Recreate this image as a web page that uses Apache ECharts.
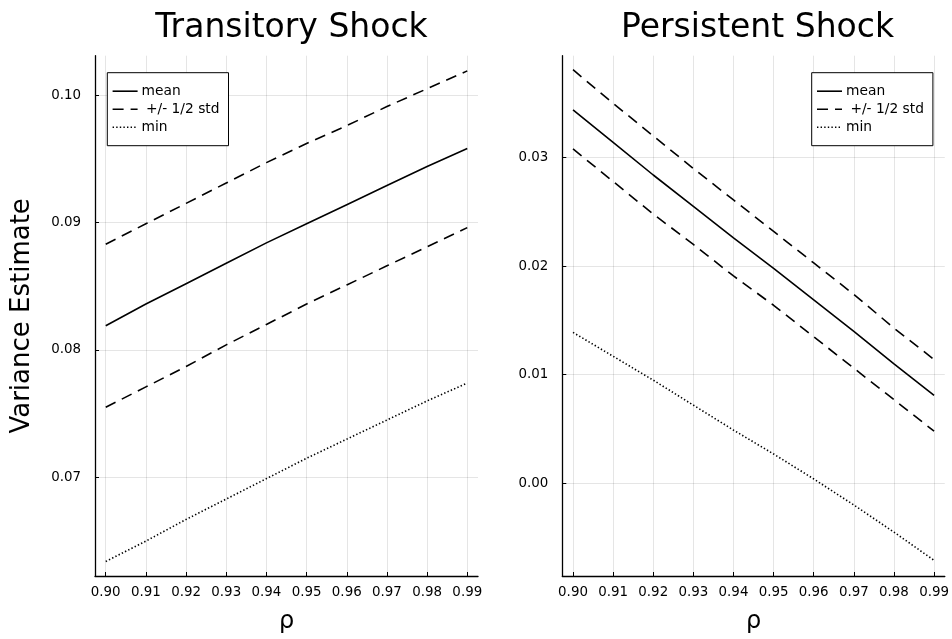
<!DOCTYPE html>
<html>
<head>
<meta charset="utf-8">
<script src="https://cdn.jsdelivr.net/npm/echarts@6/dist/echarts.min.js"></script>
<style>
  html, body { margin: 0; padding: 0; background: #fff; }
  #chart { width: 952px; height: 639px; }
</style>
</head>
<body>
<div id="chart"></div>
<script>
// Persistence parameter on the horizontal axis
const rho = [0.90, 0.91, 0.92, 0.93, 0.94, 0.95, 0.96, 0.97, 0.98, 0.99];
const rhoTicks = [0.90, 0.91, 0.92, 0.93, 0.94, 0.95, 0.96, 0.97, 0.98, 0.99];

// Transitory shock variance estimates
const transMean  = [0.0819, 0.0836, 0.0852, 0.0868, 0.0884, 0.0899, 0.0914, 0.0929, 0.0944, 0.0958];
const transUpper = [0.0883, 0.0899, 0.0915, 0.0931, 0.0947, 0.0962, 0.0976, 0.0991, 0.1005, 0.1019];
const transLower = [0.0755, 0.0771, 0.0787, 0.0804, 0.0820, 0.0836, 0.0851, 0.0866, 0.0881, 0.0896];
const transMin   = [0.0634, 0.0650, 0.0667, 0.0683, 0.0699, 0.0715, 0.0730, 0.0745, 0.0760, 0.0774];
const transTicks = [0.07, 0.08, 0.09, 0.10];

// Persistent shock variance estimates
const persMean  = [0.0344, 0.0314, 0.0284, 0.0255, 0.0226, 0.0198, 0.0169, 0.0140, 0.0110, 0.0081];
const persUpper = [0.0381, 0.0350, 0.0320, 0.0290, 0.0261, 0.0232, 0.0203, 0.0174, 0.0143, 0.0114];
const persLower = [0.0308, 0.0278, 0.0248, 0.0220, 0.0191, 0.0164, 0.0135, 0.0106, 0.0077, 0.0048];
const persMin   = [0.0139, 0.0117, 0.0095, 0.0072, 0.0049, 0.0027, 0.0004, -0.0020, -0.0045, -0.0071];
const persTicks = [0.00, 0.01, 0.02, 0.03];

const seriesNames = ['mean', ' +/- 1/2 std', 'min'];

const FONT = 'DejaVu Sans';
const DASH = [11, 7];
const DOT = [1.4, 2.2];
const LINE_W = 1.6;

const pairs = ys => rho.map((x, i) => [x, ys[i]]);

function lineSeries(name, ys, gridIdx, type) {
  return {
    name: name,
    type: 'line',
    xAxisIndex: gridIdx,
    yAxisIndex: gridIdx,
    data: pairs(ys),
    symbol: 'none',
    silent: true,
    animation: false,
    itemStyle: { color: '#000' },
    lineStyle: { color: '#000', width: LINE_W, type: type }
  };
}

function xAxisFor(gridIdx) {
  return {
    type: 'value',
    gridIndex: gridIdx,
    min: 0.89733,
    max: 0.99267,
    name: 'ρ',
    nameLocation: 'middle',
    nameGap: 34,
    nameTextStyle: { fontFamily: FONT, fontSize: 24, color: '#000' },
    axisLine: { show: true, onZero: false, lineStyle: { color: '#000', width: 1.3 } },
    axisTick: { show: true, inside: true, length: 4, customValues: rhoTicks, lineStyle: { color: '#000', width: 1 } },
    axisLabel: {
      customValues: rhoTicks, margin: 10, fontFamily: FONT, fontSize: 13.4, color: '#000',
      formatter: v => v.toFixed(2)
    },
    splitLine: { show: true, lineStyle: { color: 'rgba(0,0,0,0.1)', width: 1 } }
  };
}

function yAxisFor(gridIdx, min, max, ticks, name) {
  return {
    type: 'value',
    gridIndex: gridIdx,
    min: min,
    max: max,
    name: name,
    nameLocation: 'middle',
    nameGap: 60,
    nameTextStyle: { fontFamily: FONT, fontSize: 26, color: '#000' },
    axisLine: { show: true, onZero: false, lineStyle: { color: '#000', width: 1.3 } },
    axisTick: { show: true, inside: true, length: 4, customValues: ticks, lineStyle: { color: '#000', width: 1 } },
    axisLabel: {
      customValues: ticks, margin: 14, fontFamily: FONT, fontSize: 13.4, color: '#000',
      formatter: v => v.toFixed(2)
    },
    splitLine: { show: true, lineStyle: { color: 'rgba(0,0,0,0.1)', width: 1 } }
  };
}

function legendAt(left) {
  return {
    orient: 'vertical',
    left: left,
    top: 72.7,
    data: seriesNames,
    itemWidth: 25,
    itemHeight: 14,
    itemGap: 4,
    padding: [11.5, 9, 11.5, 4.5],
    borderColor: '#000',
    borderWidth: 1,
    backgroundColor: '#fff',
    selectedMode: false,
    textStyle: { fontFamily: FONT, fontSize: 13.8, color: '#000', padding: [0, 0, 0, -1] },
    itemStyle: { opacity: 0 },
    lineStyle: { width: LINE_W }
  };
}

const chart = echarts.init(document.getElementById('chart'), null, { renderer: 'canvas' });

chart.setOption({
  backgroundColor: '#fff',
  animation: false,
  title: [
    { text: 'Transitory Shock', left: 286.5, textAlign: 'center', top: 7,
      textStyle: { fontFamily: FONT, fontSize: 33, fontWeight: 'normal', color: '#000' } },
    { text: 'Persistent Shock', left: 752.5, textAlign: 'center', top: 7,
      textStyle: { fontFamily: FONT, fontSize: 33, fontWeight: 'normal', color: '#000' } }
  ],
  legend: [legendAt(107.3), legendAt(811.7)],
  grid: [
    { left: 95, top: 55.7, width: 383, height: 523.6, containLabel: false },
    { left: 562.3, top: 55.7, width: 383.4, height: 523.6, containLabel: false }
  ],
  xAxis: [xAxisFor(0), xAxisFor(1)],
  yAxis: [
    yAxisFor(0, 0.06226, 0.10309, transTicks, 'Variance Estimate'),
    yAxisFor(1, -0.00854, 0.03939, persTicks, '')
  ],
  series: [
    lineSeries('mean', transMean, 0, 'solid'),
    lineSeries(' +/- 1/2 std', transUpper, 0, DASH),
    lineSeries(' +/- 1/2 std', transLower, 0, DASH),
    lineSeries('min', transMin, 0, DOT),
    lineSeries('mean', persMean, 1, 'solid'),
    lineSeries(' +/- 1/2 std', persUpper, 1, DASH),
    lineSeries(' +/- 1/2 std', persLower, 1, DASH),
    lineSeries('min', persMin, 1, DOT)
  ]
});
</script>
</body>
</html>
